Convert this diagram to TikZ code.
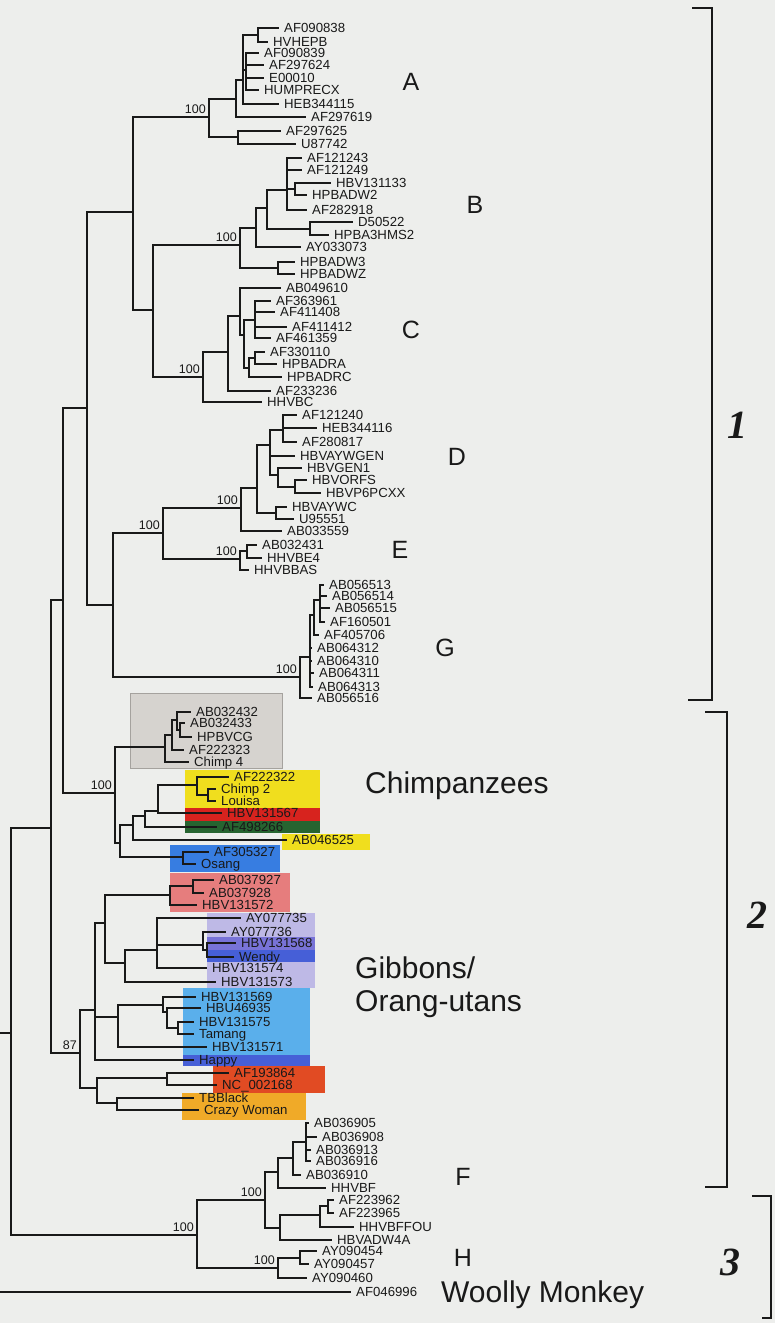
\documentclass[tikz,border=0pt]{standalone}
\usepackage{fontspec}
\setmainfont{Liberation Sans}
\newfontfamily\numfont{Liberation Serif}
\usetikzlibrary{positioning}
\definecolor{paper}{RGB}{237,238,236}
\definecolor{ink}{RGB}{25,25,25}
\definecolor{boxgray}{RGB}{214,211,207}
\definecolor{boxgrayline}{RGB}{165,162,158}
\definecolor{hlyellow}{RGB}{240,222,30}
\definecolor{hlred}{RGB}{215,35,30}
\definecolor{hlgreen}{RGB}{38,100,48}
\definecolor{hlblue}{RGB}{55,125,225}
\definecolor{hlpink}{RGB}{230,125,125}
\definecolor{hllav}{RGB}{190,185,230}
\definecolor{hlpurple}{RGB}{120,115,215}
\definecolor{hlroyal}{RGB}{70,95,215}
\definecolor{hlsky}{RGB}{90,175,235}
\definecolor{hlredor}{RGB}{225,75,35}
\definecolor{hlorange}{RGB}{240,170,40}
\tikzset{
  br/.style={line width=1.7pt, line cap=rect, ink},
  leaf/.style={anchor=west, inner xsep=6pt, inner ysep=0pt, text height=9.4pt, text depth=0pt,
    text=ink, font=\fontsize{13.2}{13.2}\selectfont},
  boot/.style={inner sep=0pt, text=ink, font=\fontsize{12.5}{13}\selectfont},
  clade/.style={inner sep=0pt, text=ink, font=\fontsize{25}{26}\selectfont},
  group/.style={inner sep=0pt, anchor=base west, text=ink, font=\fontsize{30}{33}\selectfont},
  bracket/.style={line width=2.2pt, ink},
  bracketnum/.style={inner sep=0pt, text=ink, font=\numfont\bfseries\itshape\fontsize{40}{40}\selectfont}
}

\begin{document}
\begin{tikzpicture}[x=1pt, y=-1pt]

\fill[paper] (0,0) rectangle (775,1323);
\useasboundingbox (0,0) rectangle (775,1323);

% --- Highlight boxes behind the primate sequences ---
\filldraw[fill=boxgray, draw=boxgrayline, line width=0.6pt] (130,693) rectangle (282,768);
\fill[hlyellow] (185,770) rectangle (320,808);
\fill[hlred] (185,808) rectangle (320,821);
\fill[hlgreen] (185,821) rectangle (320,833);
\fill[hlyellow] (282,834) rectangle (370,850);
\fill[hlblue] (170,845) rectangle (280,872);
\fill[hlpink] (170,873) rectangle (290,912);
\fill[hllav] (207,913) rectangle (315,988);
\fill[hlpurple] (207,937) rectangle (315,950);
\fill[hlroyal] (207,950) rectangle (315,962);
\fill[hlsky] (183,988) rectangle (310,1055);
\fill[hlroyal] (183,1055) rectangle (310,1066);
\fill[hlredor] (213,1066) rectangle (325,1093);
\fill[hlorange] (182,1093) rectangle (306,1120);

% --- Internal nodes of the tree ---
\foreach \n/\x/\y in {r0/-8/1160, n1/11/1033, n2/51/828, n3/63/600, n4/87/408, n5/133/212,
    n6/113/605, nA/209/117, aa/236/99, ab/243/80, ac/258/35, ad/246/70, ae/238/137,
    n7/153/310, nB/240/245, bb/256/228, bc/267/208, bd/287/190, bf/295/189, be/310/229,
    bg/278/268, nC/203/377, ca/228/352, cb/240/316, cc/244/335, cd/255/320, ce/249/368,
    cf/255/358, nDE/163/533, nD/241/508, da/257/488, db/270/445, dc/283/430, dd/278/475,
    de/295/487, dh/276/513, nE/240/559, ea/247/551, nG/300/677, ga/310/657, gb/314/615,
    gc/320/600, nCh/115/793, c4/165/747, c4a/172/735, c4b/177/720, c4c/180/730,
    ch2/120/843, ch3/133/825, ch4/145/816, ch5/158/811, ch6/197/785, ch7/208/795,
    os/183/857, g0/80/1053, gA/95/1010, g1/105/923, p0/170/895, p1/193/886, g6/125/963,
    g7/157/950, q1/203/945, q2/207/950, gC/118/1017, gD/163/1005, gE/167/1012,
    gF/178/1028, g3/97/1088, g4/167/1078, g5/117/1103, nFH/197/1235, nF/265/1200,
    fa/278/1172, fb/293/1158, fc/306/1142, fd/280/1228, fe/320/1215, ff/328/1206,
    nH/278/1268, hi/300/1258}
  \coordinate (\n) at (\x,\y);

% --- Leaves ---
\foreach \n/\x/\y in {AF090838/278/28, HVHEPB/267/42, AF090839/258/53, AF297624/263/65,
    E00010/263/78, HUMPRECX/258/90, HEB344115/278/104, AF297619/305/117, AF297625/280/131,
    U87742/295/144, AF121243/301/158, AF121249/301/170, HBV131133/330/183, HPBADW2/306/195,
    AF282918/306/210, D50522/352/222, HPBA3HMS2/328/235, AY033073/300/247, HPBADW3/294/262,
    HPBADWZ/294/274, AB049610/280/288, AF363961/270/301, AF411408/274/312, AF411412/286/327,
    AF461359/270/338, AF330110/264/352, HPBADRA/276/364, HPBADRC/281/377, AF233236/270/391,
    HHVBC/261/402, AF121240/296/415, HEB344116/316/428, AF280817/296/442, HBVAYWGEN/294/456,
    HBVGEN1/301/468, HBVORFS/306/480, HBVP6PCXX/320/493, HBVAYWC/286/507, U95551/293/519,
    AB033559/281/531, AB032431/256/545, HHVBE4/261/558, HHVBBAS/248/570, AB056513/323/585,
    AB056514/326/596, AB056515/329/608, AF160501/324/622, AF405706/318/635, AB064312/311/648,
    AB064310/311/661, AB064311/313/673, AB064313/312/687, AB056516/311/698, AB032432/190/712,
    AB032433/184/723, HPBVCG/191/737, AF222323/183/750, AF222322/228/777, Louisa/215/801,
    HBV131567/221/813, AF498266/216/827, AB046525/286/840, AF305327/208/852, Osang/195/864,
    AB037927/213/880, AB037928/203/893, HBV131572/196/905, AY077735/240/918, AY077736/225/932,
    HBV131568/235/943, Wendy/233/957, HBV131574/206/968, HBV131573/215/982, HBV131569/195/997,
    HBU46935/200/1008, HBV131575/193/1022, Tamang/193/1034, HBV131571/206/1047, Happy/193/1060,
    AF193864/228/1073, TBBlack/193/1098, AB036905/308/1123, AB036908/316/1137,
    AB036913/310/1150, AB036916/310/1161, AB036910/300/1175, HHVBF/325/1188, AF223962/333/1200,
    AF223965/333/1213, HHVBFFOU/353/1227, HBVADW4A/331/1240, AY090454/316/1251,
    AY090457/308/1264, AY090460/306/1278, AF046996/350/1292}
  \node[leaf] (\n) at (\x,\y) {\n};
\node[leaf] (Chimp4) at (188,762) {Chimp 4};
\node[leaf] (Chimp2) at (215,789) {Chimp 2};
\node[leaf] (NC002168) at (216,1085) {NC\_002168};
\node[leaf] (CrazyWoman) at (198,1110) {Crazy Woman};

% --- Branches ---
\foreach \p/\c in {r0/n1, r0/AF046996, n1/n2, n1/nFH, n2/n3, n2/g0, n3/n4, n3/nCh,
    n4/n5, n4/n6, n5/nA, n5/n7, nA/aa, nA/ae, aa/ab, aa/AF297619, ab/ac, ab/ad, ab/HEB344115,
    ac/AF090838, ac/HVHEPB, ad/AF090839, ad/AF297624, ad/E00010, ad/HUMPRECX,
    ae/AF297625, ae/U87742, n7/nB, n7/nC, nB/bb, nB/bg, bb/bc, bb/AY033073, bc/bd, bc/be,
    bd/AF121243, bd/AF121249, bd/bf, bd/AF282918, bf/HBV131133, bf/HPBADW2,
    be/D50522, be/HPBA3HMS2, bg/HPBADW3, bg/HPBADWZ, nC/ca, nC/HHVBC, ca/cb, ca/AF233236,
    cb/AB049610, cb/cc, cc/cd, cc/ce, cd/AF363961, cd/AF411408, cd/AF411412, cd/AF461359,
    ce/cf, ce/HPBADRC, cf/AF330110, cf/HPBADRA, n6/nDE, n6/nG, nDE/nD, nDE/nE,
    nD/da, nD/AB033559, da/db, da/dh, db/dc, db/HBVAYWGEN, db/dd,
    dc/AF121240, dc/HEB344116, dc/AF280817, dd/HBVGEN1, dd/de, de/HBVORFS, de/HBVP6PCXX,
    dh/HBVAYWC, dh/U95551, nE/ea, nE/HHVBBAS, ea/AB032431, ea/HHVBE4, nG/ga, nG/AB056516,
    ga/gb, ga/AB064312, ga/AB064310, ga/AB064311, ga/AB064313, gb/gc, gb/AF405706,
    gc/AB056513, gc/AB056514, gc/AB056515, gc/AF160501, nCh/c4, nCh/ch2, c4/c4a, c4/Chimp4,
    c4a/c4b, c4a/AF222323, c4b/AB032432, c4b/c4c, c4c/AB032433, c4c/HPBVCG,
    ch2/ch3, ch2/os, ch3/ch4, ch3/AB046525, ch4/ch5, ch4/AF498266, ch5/ch6, ch5/HBV131567,
    ch6/AF222322, ch6/ch7, ch7/Chimp2, ch7/Louisa, os/AF305327, os/Osang,
    g0/gA, g0/g3, gA/g1, gA/gC, gA/Happy, g1/p0, g1/g6, p0/p1, p0/HBV131572,
    p1/AB037927, p1/AB037928, g6/g7, g6/HBV131573, g7/AY077735, g7/q1, g7/HBV131574,
    q1/AY077736, q1/q2, q2/HBV131568, q2/Wendy, gC/gD, gC/HBV131571, gD/HBV131569, gD/gE,
    gE/HBU46935, gE/gF, gF/HBV131575, gF/Tamang, g3/g4, g3/g5, g4/AF193864, g4/NC002168,
    g5/TBBlack, g5/CrazyWoman, nFH/nF, nFH/nH, nF/fa, nF/fd, fa/fb, fa/HHVBF,
    fb/fc, fb/AB036910, fc/AB036905, fc/AB036908, fc/AB036913, fc/AB036916,
    fd/fe, fd/HBVADW4A, fe/ff, fe/HHVBFFOU, ff/AF223962, ff/AF223965,
    nH/hi, nH/AY090460, hi/AY090454, hi/AY090457}
  \draw[br] (\p) |- (\c);

% --- Bootstrap values ---
\foreach \n/\v in {nA/100, nB/100, nC/100, nD/100, nDE/100, nE/100, nG/100, nCh/100,
    g0/87, nFH/100, nF/100, nH/100}
  \node[boot, anchor=south east] (bs\n) at ([xshift=-3pt, yshift=3pt]\n) {\v};

% --- Genotype and host labels ---
\foreach \n/\x/\y in {A/411/82, B/475/205, C/411/330, D/457/457, E/400/550, G/445/648,
    F/463/1177, H/463/1258}
  \node[clade] (lbl\n) at (\x,\y) {\n};
\node[group] (chimps) at (365,793) {Chimpanzees};
\node[group] (gibbons) at (355,978) {Gibbons/};
\node[group] (orang) at (355,1011) {Orang-utans};
\node[group] (woolly) at (441,1302) {Woolly Monkey};

% --- Group brackets ---
\draw[bracket] (692,8) -- (712,8) -- (712,700) -- (688,700);
\draw[bracket] (705,712) -- (727,712) -- (727,1187) -- (705,1187);
\draw[bracket] (752,1196) -- (771,1196) -- (771,1318) -- (762,1318);
\node[bracketnum] (grp1) at (737,425) {1};
\node[bracketnum] (grp2) at (757,915) {2};
\node[bracketnum] (grp3) at (730,1262) {3};

\end{tikzpicture}
\end{document}
